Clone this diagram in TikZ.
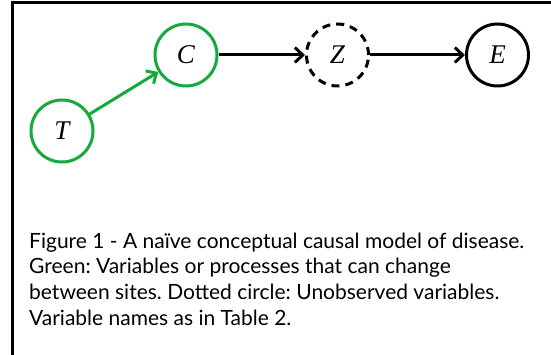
\documentclass[tikz,border=0pt]{standalone}
\usepackage{fontspec}
\setmainfont{Lato}
\newfontfamily\varfont{Liberation Serif}
\usetikzlibrary{arrows.meta}
\definecolor{mgreen}{RGB}{20, 170, 60}
\tikzset{var/.style = {draw, circle, line width = 3pt, minimum size = 62pt, inner sep = 0,
    font = \varfont\itshape\fontsize{27}{27}\selectfont}}
\tikzset{arr/.style = {-{Straight Barb[length = 8pt, width = 15pt]}, line width = 3pt}}
\frenchspacing

\begin{document}
\begin{tikzpicture}[x=1pt, y=-1pt]
      \useasboundingbox (0, 0) rectangle (551, 355);
      \draw [line width = 3pt] (12, 356) -- (12, 3) -- (552, 3);

      \node [var, mgreen] (T) at (62, 131) {\color{black}T};
      \node [var, mgreen] (C) at (186, 55) {\color{black}C};
      \node [var, dashed, dash pattern = on 8pt off 6pt] (Z) at (337.5, 55) {Z};
      \node [var] (E) at (497.5, 55) {E};

      \draw [arr, mgreen] (T) -- (C);
      \draw [arr] (C) -- (Z);
      \draw [arr] (Z) -- (E);

      % base of a multi-line node is its last line
      \node [anchor = base west, align = left, inner sep = 0,
             font = \fontsize{21}{25.8}\selectfont] (caption) at (29, 325.4)
        {Figure 1 - A na\"ive conceptual causal model of disease.\\
         Green: Variables or processes that can change\\
         between sites. Dotted circle: Unobserved variables.\\
         Variable names as in Table 2.};
    \end{tikzpicture}
\end{document}
